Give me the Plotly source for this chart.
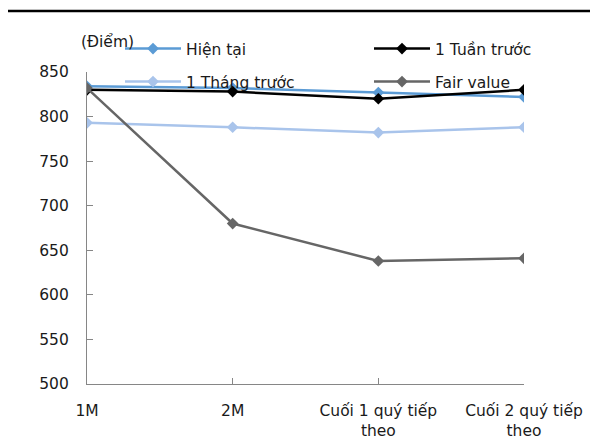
import plotly.graph_objects as go

categories = ["1M", "2M", "Cuối 1 quý tiếp theo", "Cuối 2 quý tiếp theo"]
tick_labels = ["1M", "2M", "Cuối 1 quý tiếp<br>theo", "Cuối 2 quý tiếp<br>theo"]
hien_tai = [834, 832, 827, 822]
tuan_truoc = [830, 828, 820, 830]
thang_truoc = [793, 788, 782, 788]
fair_value = [832, 680, 638, 641]
y_ticks = [500, 550, 600, 650, 700, 750, 800, 850]

FONT = "DejaVu Sans"
FS = 15.5
W, H = 598, 446

series = [
    ("Hiện tại", hien_tai, "#5B9BD5", "legend"),
    ("1 Tuần trước", tuan_truoc, "#000000", "legend2"),
    ("1 Tháng trước", thang_truoc, "#A9C4EB", "legend3"),
    ("Fair value", fair_value, "#666666", "legend4"),
]

fig = go.Figure()
for name, vals, color, lg in series:
    fig.add_trace(go.Scatter(
        x=categories, y=vals, name=name, mode="lines+markers",
        line=dict(color=color, width=2.5),
        marker=dict(symbol="diamond", size=9, color=color),
        legend=lg,
    ))

def leg(px, py):
    return dict(
        xref="container", yref="container",
        x=px / W, y=1 - py / H, xanchor="left", yanchor="middle",
        bgcolor="rgba(0,0,0,0)", itemwidth=56,
        font=dict(family=FONT, size=FS, color="#1a1a1a"),
        orientation="h",
    )

fig.update_layout(
    width=W, height=H,
    margin=dict(l=79, r=82, t=64, b=70, autoexpand=False),
    paper_bgcolor="white", plot_bgcolor="white",
    font=dict(family=FONT, size=FS, color="#1a1a1a"),
    showlegend=True,
    legend=leg(112, 41),
    legend2=leg(361, 41),
    legend3=leg(112, 74),
    legend4=leg(361, 74),
    xaxis=dict(
        type="category", range=[0, 3],
        tickmode="array", tickvals=categories, ticktext=tick_labels,
        showline=True, linecolor="#868686", linewidth=1.3,
        ticks="inside", ticklen=6, tickcolor="#868686",
        showgrid=False, zeroline=False,
        ticklabelstandoff=12,
        tickfont=dict(family=FONT, size=FS, color="#1a1a1a"),
    ),
    yaxis=dict(
        range=[500, 850], tickvals=y_ticks,
        showline=True, linecolor="#868686", linewidth=1.3,
        ticks="inside", ticklen=6, tickcolor="#868686",
        showgrid=False, zeroline=False,
        ticklabelstandoff=14,
        tickfont=dict(family=FONT, size=FS, color="#1a1a1a"),
    ),
    annotations=[dict(
        text="(Điểm)", xref="paper", yref="paper",
        x=(79 - 87) / 437, y=(384 - 42) / 312,
        xanchor="left", yanchor="middle", showarrow=False,
        font=dict(family=FONT, size=FS, color="#1a1a1a"),
    )],
    shapes=[dict(
        type="line", xref="paper", yref="paper",
        x0=(7 - 87) / 437, x1=(600 - 87) / 437,
        y0=(384 - 11) / 312, y1=(384 - 11) / 312,
        line=dict(color="black", width=2.5),
    )],
)

fig.write_html("out.html")
